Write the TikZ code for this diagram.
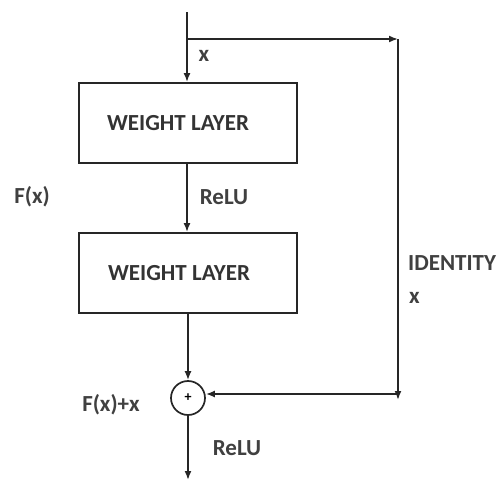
\documentclass[tikz,border=0pt]{standalone}
\usepackage{fontspec}
\setmainfont{Carlito}
\usetikzlibrary{arrows.meta}
\begin{document}
\begin{tikzpicture}[x=1pt,y=-1pt,
  line/.style={draw=black!85, line width=1.7pt},
  arr/.style={line, -{Latex[length=9pt,width=7pt]}},
  layer/.style={draw=black!85, line width=1.9pt, minimum width=218pt, minimum height=80pt, inner sep=0pt, font=\fontsize{23}{26}\selectfont\bfseries, text=black!80},
  lbl/.style={font=\fontsize{23}{26}\selectfont\bfseries, text=black!75, inner sep=0pt},
  sumnode/.style={circle, draw=black!85, line width=1.7pt, minimum size=34pt, inner sep=0pt, font=\fontsize{14}{16}\selectfont\bfseries}]
\useasboundingbox (0,0) rectangle (499,482);
\coordinate (top) at (187,12);
\coordinate (split) at (187,39);
\coordinate (rt) at (398,39);
\coordinate (rb) at (398,394);
\coordinate (bot) at (188,480);
\node[layer] (w1) at (188,123) {\hspace*{-20pt}WEIGHT LAYER};
\node[layer] (w2) at (188,273) {\hspace*{-18pt}WEIGHT LAYER};
\node[sumnode] (sum) at (188,398) {+};
\draw[line] (top) -- (split);
\draw[arr] (split) -- (split |- w1.north);
\draw[arr] (split) -- (rt);
\draw[arr] (rt) -- ([yshift=-6pt]rb);
\draw[arr] (rb) -- (sum.east |- rb);
\draw[arr] (w1.south -| split) -- (w2.north -| split);
\draw[arr] (w2.south) -- (sum.north);
\draw[arr] (sum.south) -- (bot);
\node[lbl] (lx) at (204,56) {x};
\node[lbl] (lfx) at (32,197) {F(x)};
\node[lbl] (lrelu1) at (224,197) {ReLU};
\node[lbl, anchor=west] (lid) at (408,263) {IDENTITY};
\node[lbl, anchor=west] (lx2) at (409,298) {x};
\node[lbl] (lfxx) at (111,405) {F(x)+x};
\node[lbl] (lrelu2) at (237,448) {ReLU};
\end{tikzpicture}
\end{document}
